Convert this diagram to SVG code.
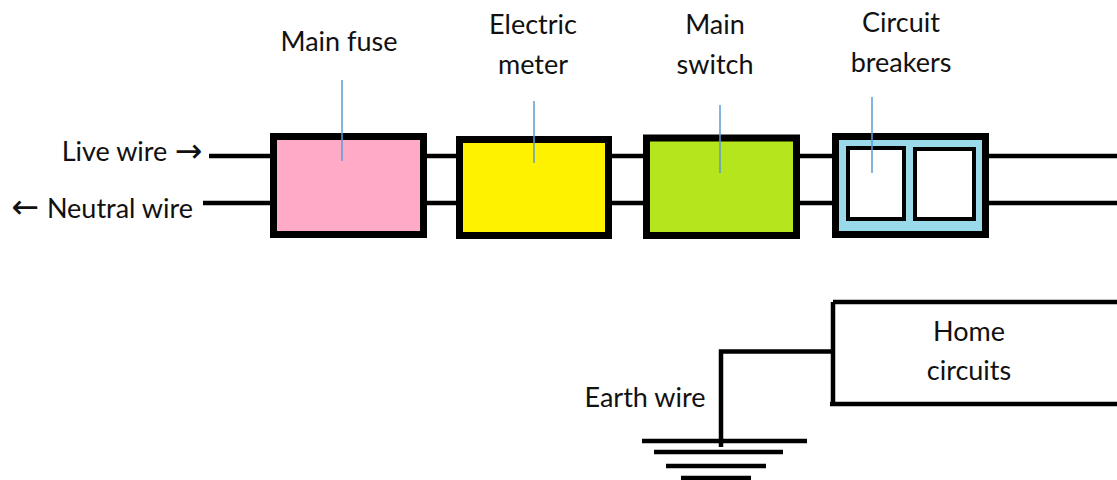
<svg xmlns="http://www.w3.org/2000/svg" width="1117" height="480" viewBox="0 0 1117 480">
<style>
text{font-family:Lato,"Liberation Sans",sans-serif;font-size:27px;fill:#111;text-anchor:middle}
text.sym{font-family:"DejaVu Sans",sans-serif;font-size:33px}
.w{fill:none;stroke:#000;stroke-width:4.500}
.b{stroke:#000;stroke-width:7}
.s{fill:#fff;stroke:#000;stroke-width:4}
.p{fill:none;stroke:#5b9bd5;stroke-width:1.500}
</style>
<rect width="1117" height="480" fill="#fff"/>
<g id="connectors">
<path class="w" d="M209 156H1117M203 203H1117"/>
<path class="w" d="M833 302V404M833 302H1117M830 404H1117M833 351.500H721V447"/>
<path class="w" d="M642 441H807M654 452H783M666 466H766M681 478H751"/>
</g>
<g id="main-fuse"><rect class="b" x="273.500" y="136.500" width="150" height="98" fill="#ffabc8"/><text x="339" y="51">Main fuse</text></g>
<g id="electric-meter"><rect class="b" x="459.500" y="139.500" width="149" height="96" fill="#fff200"/><text x="533" y="34">Electric</text><text x="533" y="74">meter</text></g>
<g id="main-switch"><rect class="b" x="646.500" y="138" width="150" height="97.500" fill="#b5e61d"/><text x="715" y="34">Main</text><text x="715" y="74">switch</text></g>
<g id="circuit-breakers"><rect class="b" x="835.500" y="136.500" width="150" height="98" fill="#99d9ea"/><rect class="s" x="848" y="148" width="56" height="71"/><rect class="s" x="915" y="149" width="59" height="70"/><text x="901" y="32">Circuit</text><text x="901" y="72">breakers</text></g>
<g id="home-circuits"><text x="969" y="341">Home</text><text x="969" y="380">circuits</text></g>
<g id="labels">
<text x="114.500" y="161">Live wire</text><text class="sym" x="188.500" y="161.500">→</text>
<text x="120" y="218">Neutral wire</text><text class="sym" x="25" y="217.500">←</text>
<text x="645" y="407">Earth wire</text>
</g>
<g id="pointers"><path class="p" d="M342 80V161M534 101V163M720 105V173M872 97V173"/></g>
</svg>
